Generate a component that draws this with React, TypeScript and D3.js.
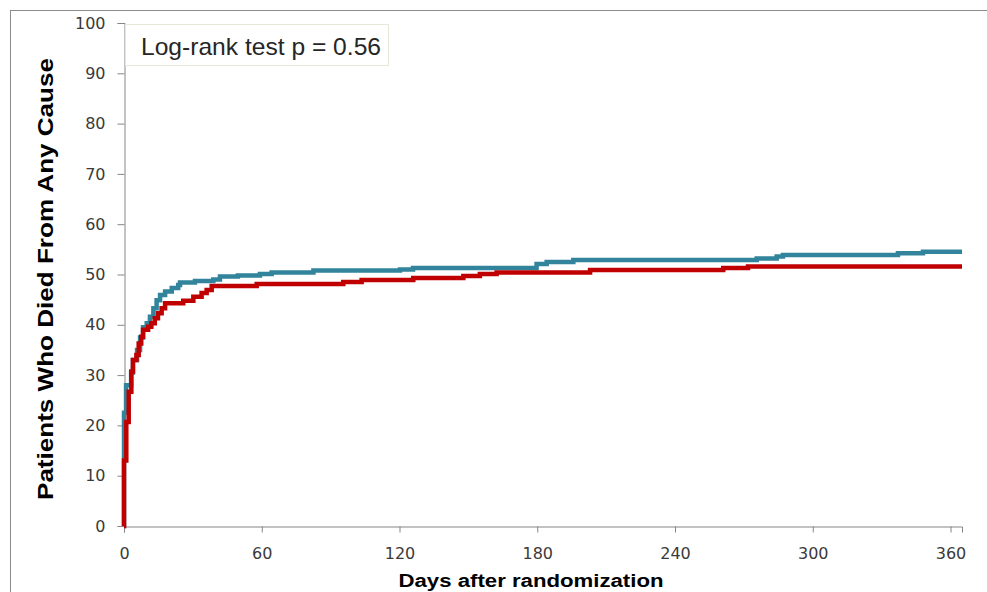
import React, { useEffect, useRef } from 'react'
import * as d3 from 'd3'

// step points: [day, % died]
const tealDays = [0, 0.01, 0.9, 3.1, 3.9, 5.7, 7.0, 8.3, 9.9, 11.3, 12.8, 14.2, 15.7, 17.9, 20.8, 23.6, 24.4, 30.9, 38.9, 41.8, 49.6, 59.2, 64.3, 82.5, 120.2, 125.9, 179.7, 184.1, 195.7, 275.6, 284.3, 287.0, 337.1, 348.0, 365]
const tealValues = [0, 22.5, 28, 30.5, 33, 35, 37.5, 39.5, 40.3, 41.6, 43.3, 44.9, 45.9, 46.6, 47.3, 47.9, 48.4, 48.7, 49.0, 49.6, 49.8, 50.1, 50.4, 50.8, 51.0, 51.3, 52.1, 52.5, 52.9, 53.2, 53.6, 53.9, 54.2, 54.5, 54.5]

const redDays = [0, 0.01, 1.0, 2.05, 3.2, 3.9, 5.4, 6.4, 7.5, 8.3, 10.5, 11.9, 13.4, 14.8, 16.4, 17.9, 25.8, 30.2, 33.8, 36.0, 38.2, 57.8, 95.5, 103.5, 126.0, 147.8, 155.0, 162.3, 203.0, 261.0, 271.8, 365]
const redValues = [0, 13, 20.7, 26.7, 30.7, 33, 34, 36.3, 37.6, 39, 39.6, 40.3, 41.3, 42.3, 43.3, 44.3, 44.8, 45.6, 46.3, 46.9, 47.7, 48.1, 48.5, 48.9, 49.3, 49.7, 50.1, 50.4, 50.9, 51.3, 51.6, 51.6]

const xTicks = [0, 60, 120, 180, 240, 300, 360]
const yTicks = [0, 10, 20, 30, 40, 50, 60, 70, 80, 90, 100]

const App = () => {
  const ref = useRef<SVGSVGElement>(null)

  useEffect(() => {
    const svg = d3.select(ref.current)
    svg.selectAll('*').remove()

    const x = d3.scaleLinear().domain([0, 365]).range([124, 962])
    const y = d3.scaleLinear().domain([0, 100]).range([526, 23])
    const tickFont = "'DejaVu Sans', sans-serif"
    const titleFont = "'Liberation Sans', Arial, sans-serif"

    // outer frame
    svg.append('rect')
        .attr('x', 10.5).attr('y', 10.5)
        .attr('width', 1100).attr('height', 1100)
        .attr('fill', 'none')
        .attr('stroke', '#8c8c8c')

    const yAxis = svg.append('g')
        .attr('transform', 'translate(124.5,0)')
        .call(d3.axisLeft(y).tickValues(yTicks).tickSize(7).tickPadding(12))
    const xAxis = svg.append('g')
        .attr('transform', 'translate(0,526.5)')
        .call(d3.axisBottom(x).tickValues(xTicks).tickSize(6).tickPadding(15))

    for (const ax of [xAxis, yAxis]) {
      ax.select('.domain').attr('stroke', '#868686')
      ax.selectAll('.tick line').attr('stroke', '#868686')
      ax.selectAll('.tick text')
          .attr('fill', '#3a3a3a')
          .style('font-size', '16px')
          .style('font-family', tickFont)
    }

    const line = d3.line<[number, number]>()
        .curve(d3.curveStepAfter)

    const draw = (days: number[], vals: number[], color: string) => {
      svg.append('path')
          .attr('d', line(days.map((d, i) => [x(d), y(vals[i])] as [number, number])))
          .attr('fill', 'none')
          .attr('stroke', color)
          .attr('stroke-width', 4.5)
    }
    draw(tealDays, tealValues, '#31849b')
    draw(redDays, redValues, '#c00000')

    // p value box
    svg.append('rect')
        .attr('x', 125.5).attr('y', 24.5)
        .attr('width', 263).attr('height', 41)
        .attr('fill', 'white')
        .attr('stroke', '#e8e8d8')
    svg.append('text')
        .attr('x', 141).attr('y', 55)
        .style('font-family', "'Liberation Sans', Arial, sans-serif")
        .style('font-size', '24px')
        .attr('fill', '#262626')
        .attr('textLength', 240)
        .attr('lengthAdjust', 'spacingAndGlyphs')
        .text('Log-rank test p = 0.56')

    svg.append('text')
        .attr('transform', 'translate(53,279) rotate(-90)')
        .attr('text-anchor', 'middle')
        .style('font-family', titleFont)
        .style('font-size', '22px')
        .style('font-weight', 'bold')
        .attr('textLength', 442)
        .attr('lengthAdjust', 'spacingAndGlyphs')
        .text('Patients Who Died  From Any Cause')

    svg.append('text')
        .attr('x', 531).attr('y', 587)
        .attr('text-anchor', 'middle')
        .style('font-family', titleFont)
        .style('font-size', '18px')
        .style('font-weight', 'bold')
        .attr('textLength', 265)
        .attr('lengthAdjust', 'spacingAndGlyphs')
        .text('Days after randomization')
  }, [])

  return (
      <div style={{ position: 'fixed', left: 0, top: 0, width: 987, height: 592, background: 'white', overflow: 'hidden' }}>
        <svg ref={ref} width={987} height={592} style={{ display: 'block' }} />
      </div>
  )
}

export default App
